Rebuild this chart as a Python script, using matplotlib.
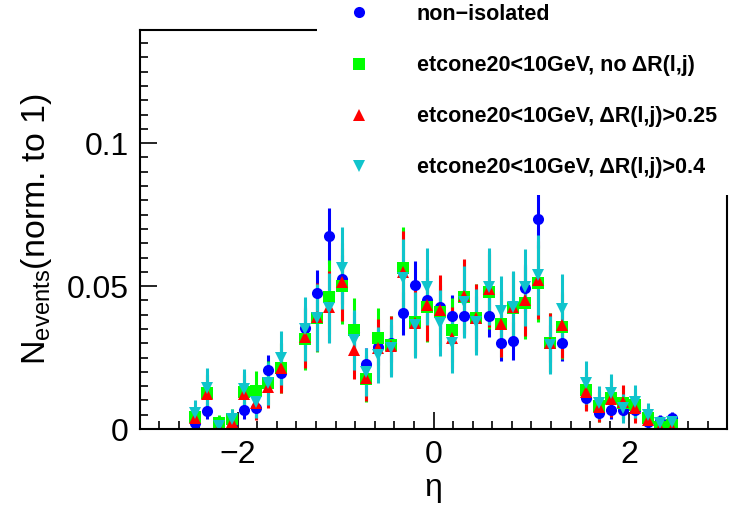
import matplotlib
matplotlib.use("Agg")
import matplotlib.pyplot as plt
import numpy as np
from matplotlib.lines import Line2D
from matplotlib.patches import Rectangle
from matplotlib.ticker import MultipleLocator

# === Data (bin centres in eta, crack bins 1.37-1.52 left out) ===
eta = [-2.4375, -2.3125, -2.1875, -2.0625, -1.9375, -1.8125, -1.6875, -1.5625,
       -1.3125, -1.1875, -1.0625, -0.9375, -0.8125, -0.6875, -0.5625, -0.4375,
       -0.3125, -0.1875, -0.0625, 0.0625, 0.1875, 0.3125, 0.4375, 0.5625,
       0.6875, 0.8125, 0.9375, 1.0625, 1.1875, 1.3125, 1.5625, 1.6875,
       1.8125, 1.9375, 2.0625, 2.1875, 2.3125, 2.4375]

nonisol = [0.0020, 0.0064, 0.0010, 0.0020, 0.0066, 0.0072, 0.0205, 0.0197,
           0.0353, 0.0475, 0.0675, 0.0524, 0.0340, 0.0226, 0.0288, 0.0300,
           0.0405, 0.0503, 0.0450, 0.0426, 0.0396, 0.0396, 0.0390, 0.0396,
           0.0302, 0.0308, 0.0492, 0.0733, 0.0300, 0.0302, 0.0107, 0.0055,
           0.0066, 0.0066, 0.0066, 0.0026, 0.0028, 0.0037]
nonisol_err = [0.0017, 0.0030, 0.0012, 0.0017, 0.0030, 0.0032, 0.0054, 0.0053,
               0.0070, 0.0082, 0.0097, 0.0086, 0.0069, 0.0056, 0.0063, 0.0065,
               0.0075, 0.0084, 0.0079, 0.0077, 0.0074, 0.0074, 0.0074, 0.0074,
               0.0065, 0.0066, 0.0083, 0.0101, 0.0065, 0.0065, 0.0039, 0.0028,
               0.0030, 0.0030, 0.0030, 0.0019, 0.0020, 0.0023]

iso_nodr = [0.0043, 0.0126, 0.0022, 0.0035, 0.0130, 0.0134, 0.0162, 0.0213,
            0.0315, 0.0388, 0.0463, 0.0500, 0.0346, 0.0175, 0.0318, 0.0294,
            0.0563, 0.0375, 0.0428, 0.0410, 0.0346, 0.0463, 0.0388, 0.0480,
            0.0367, 0.0423, 0.0440, 0.0510, 0.0302, 0.0358, 0.0135, 0.0080,
            0.0108, 0.0092, 0.0084, 0.0038, 0.0008, 0.0014]
iso_nodr_err = [0.0039, 0.0067, 0.0028, 0.0036, 0.0068, 0.0069, 0.0076, 0.0088,
                0.0107, 0.0118, 0.0129, 0.0134, 0.0112, 0.0079, 0.0107, 0.0103,
                0.0142, 0.0116, 0.0124, 0.0122, 0.0112, 0.0129, 0.0118, 0.0131,
                0.0115, 0.0123, 0.0126, 0.0135, 0.0104, 0.0114, 0.0070, 0.0054,
                0.0062, 0.0058, 0.0055, 0.0037, 0.0017, 0.0022]

iso_dr025 = [0.0038, 0.0122, 0.0004, 0.0026, 0.0122, 0.0090, 0.0148, 0.0214,
             0.0323, 0.0393, 0.0428, 0.0515, 0.0276, 0.0178, 0.0283, 0.0292,
             0.0550, 0.0370, 0.0434, 0.0416, 0.0320, 0.0465, 0.0390, 0.0490,
             0.0367, 0.0426, 0.0451, 0.0521, 0.0302, 0.0364, 0.0130, 0.0078,
             0.0104, 0.0095, 0.0072, 0.0031, 0.0002, 0.0003]
iso_dr025_err = [0.0037, 0.0066, 0.0012, 0.0031, 0.0066, 0.0057, 0.0073, 0.0088,
                 0.0108, 0.0119, 0.0124, 0.0136, 0.0100, 0.0080, 0.0101, 0.0103,
                 0.0141, 0.0115, 0.0125, 0.0122, 0.0107, 0.0129, 0.0118, 0.0133,
                 0.0115, 0.0124, 0.0127, 0.0137, 0.0104, 0.0114, 0.0068, 0.0053,
                 0.0061, 0.0058, 0.0051, 0.0033, 0.0008, 0.0010]

iso_dr04 = [0.0055, 0.0143, 0.0010, 0.0035, 0.0140, 0.0096, 0.0160, 0.0248,
            0.0350, 0.0390, 0.0423, 0.0563, 0.0312, 0.0200, 0.0259, 0.0283,
            0.0528, 0.0364, 0.0498, 0.0370, 0.0300, 0.0445, 0.0375, 0.0498,
            0.0414, 0.0428, 0.0496, 0.0538, 0.0294, 0.0420, 0.0162, 0.0092,
            0.0125, 0.0072, 0.0095, 0.0049, 0.0020, 0.0026]
iso_dr04_err = [0.0045, 0.0072, 0.0019, 0.0036, 0.0071, 0.0059, 0.0076, 0.0094,
                0.0112, 0.0118, 0.0123, 0.0142, 0.0106, 0.0085, 0.0097, 0.0101,
                0.0138, 0.0114, 0.0134, 0.0115, 0.0104, 0.0127, 0.0116, 0.0134,
                0.0122, 0.0124, 0.0134, 0.0139, 0.0103, 0.0123, 0.0076, 0.0058,
                0.0067, 0.0051, 0.0058, 0.0042, 0.0027, 0.0031]

labels = ["non\u2212isolated",
          "etcone20<10GeV, no \u0394R(l,j)",
          "etcone20<10GeV, \u0394R(l,j)>0.25",
          "etcone20<10GeV, \u0394R(l,j)>0.4"]
colors = ["#0000ff", "#00ff00", "#ff0000", "#10c4cc"]
markers = ["o", "s", "^", "v"]

plt.rcParams.update({
    "font.family": ["Liberation Sans", "DejaVu Sans"],
    "mathtext.fontset": "custom",
    "mathtext.rm": "Liberation Sans",
    "mathtext.it": "Liberation Sans:italic",
})

fig = plt.figure(figsize=(7.36, 5.12), dpi=100)
ax = fig.add_axes([0.190, 0.162, 0.798, 0.779])

series = [(nonisol, nonisol_err), (iso_nodr, iso_nodr_err),
          (iso_dr025, iso_dr025_err), (iso_dr04, iso_dr04_err)]
for (vals, errs), col, mk in zip(series, colors, markers):
    ax.errorbar(eta, vals, yerr=errs, fmt=mk, color=col, ecolor=col,
                markersize=8, elinewidth=2.2, capsize=0, markeredgewidth=0)

ax.set_xlim(-3, 3)
ax.set_ylim(0, 0.1395)
ax.xaxis.set_minor_locator(MultipleLocator(0.2))
ax.yaxis.set_minor_locator(MultipleLocator(0.005))
ax.set_yticks([0, 0.05, 0.1])
ax.set_yticklabels(["0", "0.05", "0.1"])
ax.set_xticks([-2, 0, 2])
ax.set_xticklabels(["\u22122", "0", "2"])
ax.tick_params(which="both", direction="in", top=False, right=False,
               labelsize=23, width=1.2)
ax.tick_params(which="major", length=12, pad=8)
ax.tick_params(which="minor", length=6)
for sp in ax.spines.values():
    sp.set_linewidth(1.5)

ax.set_xlabel("\u03b7", fontsize=23, labelpad=2)
ax.set_ylabel(r"N$_{\mathregular{events}}$(norm. to 1)", fontsize=24.5, labelpad=9)

# white legend pad covering the upper right of the frame (ROOT TLegend style)
fig.patches.append(Rectangle((0.431, 0.619), 0.569, 0.381,
                             transform=fig.transFigure, facecolor="white",
                             edgecolor="none", zorder=5))
handles = [Line2D([], [], linestyle="none", marker=mk, color=col,
                  markersize=8, markeredgewidth=0)
           for col, mk in zip(colors, markers)]
leg = fig.legend(handles, labels, loc="upper left",
                 bbox_to_anchor=(0.4463, 1.03), frameon=False,
                 prop={"weight": "bold", "size": 15.5}, labelspacing=1.4,
                 handlelength=1.0, handletextpad=2.2)
leg.set_zorder(6)

fig.savefig("out.png", dpi=100)
